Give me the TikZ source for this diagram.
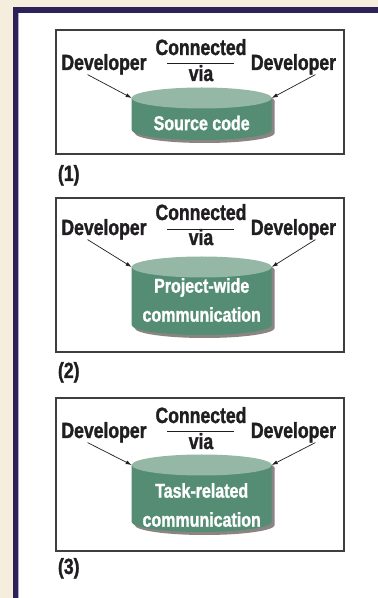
\documentclass[tikz,border=0pt]{standalone}
\usepackage{fontspec}
\setmainfont{Liberation Sans Bold}[FakeStretch=0.8,FakeBold=1.3]
\usetikzlibrary{shapes.geometric}
\usetikzlibrary{arrows.meta}
\definecolor{PageCream}{RGB}{246,238,220}
\definecolor{FrameNavy}{RGB}{44,34,88}
\definecolor{FrameLilac}{RGB}{178,170,210}
\definecolor{PanelLine}{RGB}{62,62,66}
\definecolor{LabelInk}{RGB}{32,30,32}
\definecolor{DrumBody}{RGB}{84,141,116}
\definecolor{DrumLid}{RGB}{148,184,165}
\definecolor{DrumShade}{RGB}{138,132,131}

\begin{document}
\begin{tikzpicture}[
x=1pt,
y=1pt,
every node/.style={text=LabelInk,outer sep=0pt},
devlabel/.style={font=\fontsize{22}{24}\selectfont,inner sep=0pt,anchor=base},
panelnum/.style={font=\fontsize{22}{24}\selectfont,inner sep=0pt,anchor=base west},
drumlid/.style={ellipse,fill=DrumLid,draw=none,minimum width=140pt,minimum height=21pt,inner sep=0pt},
drumtext/.style={font=\fontsize{20}{29}\selectfont,text=white,align=center,inner sep=0pt},
panelbox/.style={draw=PanelLine,line width=1.1pt},
viarule/.style={draw=LabelInk,line width=0.9pt},
devarrow/.style={-{Latex[length=6pt,width=4pt]},draw=LabelInk,line width=0.7pt,shorten >=0pt}
]

\path[use as bounding box] (0,0) rectangle (378,598);
\fill[PageCream] (0,0) rectangle (378,598);
\fill[FrameNavy] (13,0) rectangle (378,591);
\fill[white] (18,0) rectangle (378,585);
\fill[FrameLilac] (18,0) rectangle (19.3,585);

% (1) source code
\draw[panelbox] (56,568) rectangle (344,444);
\node[devlabel] (conn1) at (201,543) {Connected};
\draw[viarule] (167,534.5) -- (234,534.5);
\node[devlabel] (via1) at (201,517) {via};
\node[devlabel] (devL1) at (104,528) {Developer};
\node[devlabel] (devR1) at (293.5,528) {Developer};
\fill[DrumShade] (204.7,497) ellipse [x radius=70,y radius=10.5];
\fill[DrumShade] (134.7,497) -- (134.7,465) arc[start angle=180,end angle=360,x radius=70,y radius=10] -- (274.7,497) -- cycle;
\fill[DrumBody] (131.7,500) -- (131.7,468) arc[start angle=180,end angle=360,x radius=70,y radius=10] -- (271.7,500) -- cycle;
\node[drumlid] (lid1) at (201.7,500) {};
\node[drumtext] (src) at (201.7,475) {Source code};
\draw[devarrow] ([xshift=-16.5pt]devL1.south) -- (lid1.west);
\draw[devarrow] ([xshift=22pt]devR1.south) -- (lid1.east);
\node[panelnum] (num1) at (58,417) {(1)};

% (2) project-wide communication
\draw[panelbox] (56,400) rectangle (344,246);
\node[devlabel] (conn2) at (201,378) {Connected};
\draw[viarule] (167,369) -- (234,369);
\node[devlabel] (via2) at (201,353) {via};
\node[devlabel] (devL2) at (104,363) {Developer};
\node[devlabel] (devR2) at (293.5,363) {Developer};
\fill[DrumShade] (204.7,328) ellipse [x radius=70,y radius=10.5];
\fill[DrumShade] (134.7,328) -- (134.7,270) arc[start angle=180,end angle=360,x radius=70,y radius=10] -- (274.7,328) -- cycle;
\fill[DrumBody] (131.7,331) -- (131.7,273) arc[start angle=180,end angle=360,x radius=70,y radius=10] -- (271.7,331) -- cycle;
\node[drumlid] (lid2) at (201.7,331) {};
\node[drumtext] (proj) at (201.7,298) {Project-wide\\communication};
\draw[devarrow] ([xshift=-16.5pt]devL2.south) -- (lid2.west);
\draw[devarrow] ([xshift=22pt]devR2.south) -- (lid2.east);
\node[panelnum] (num2) at (58,220) {(2)};

% (3) task-related communication
\draw[panelbox] (56,200) rectangle (344,47);
\node[devlabel] (conn3) at (201,175) {Connected};
\draw[viarule] (167,166.3) -- (234,166.3);
\node[devlabel] (via3) at (201,149) {via};
\node[devlabel] (devL3) at (104,160) {Developer};
\node[devlabel] (devR3) at (293.5,160) {Developer};
\fill[DrumShade] (204.7,130) ellipse [x radius=70,y radius=10.5];
\fill[DrumShade] (134.7,130) -- (134.7,73) arc[start angle=180,end angle=360,x radius=70,y radius=10] -- (274.7,130) -- cycle;
\fill[DrumBody] (131.7,133) -- (131.7,76) arc[start angle=180,end angle=360,x radius=70,y radius=10] -- (271.7,133) -- cycle;
\node[drumlid] (lid3) at (201.7,133) {};
\node[drumtext] (task) at (201.7,93) {Task-related\\communication};
\draw[devarrow] ([xshift=-16.5pt]devL3.south) -- (lid3.west);
\draw[devarrow] ([xshift=22pt]devR3.south) -- (lid3.east);
\node[panelnum] (num3) at (58,24) {(3)};

\end{tikzpicture}
\end{document}
